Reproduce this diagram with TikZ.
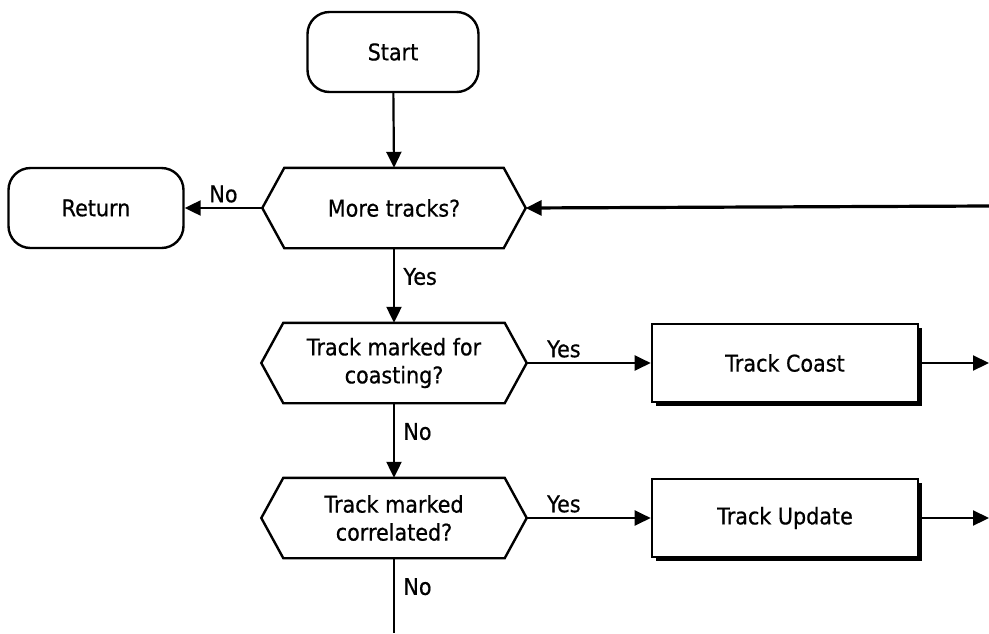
\documentclass[tikz,border=0pt]{standalone}
\usepackage{fontspec}
\setmainfont[FakeStretch=0.9,FakeBold=0.6]{DejaVu Sans}
\usetikzlibrary{arrows.meta,shadows}
\newcommand\hexpath[1]{\draw[hexline] (#1.west) -- ([xshift=22pt]#1.north west) -- ([xshift=-22pt]#1.north east) -- (#1.east) -- ([xshift=-22pt]#1.south east) -- ([xshift=22pt]#1.south west) -- cycle;}
\begin{document}
\begin{tikzpicture}[x=1pt,y=-1pt,
  txt/.style={font=\fontsize{23}{28}\selectfont},
  term/.style={txt, draw, line width=2.4pt, rounded corners=22pt, minimum height=80pt, inner sep=0pt},
  dec/.style={txt, minimum height=80pt, align=center, inner sep=0pt},
  hexline/.style={line width=2.4pt, line join=miter},
  procbox/.style={txt, draw, line width=2.6pt, fill=white, minimum width=266pt, minimum height=78pt, inner sep=0pt,
    drop shadow={shadow xshift=3.5pt, shadow yshift=-3.5pt, opacity=1, fill=black}},
  conn/.style={line width=2.2pt, -{Triangle[length=16pt,width=15pt]}},
  lbl/.style={txt}
]
\useasboundingbox (0,0) rectangle (989,633);

\node[term, minimum width=171pt] (start) at (393,52) {Start};
\node[term, minimum width=175pt] (ret) at (96,208) {Return};
\node[dec, minimum width=263pt] (d1) at (394,208) {More tracks?};
\hexpath{d1}
\node[dec, minimum width=265pt] (d2) at (394,363) {Track marked for\\coasting?};
\hexpath{d2}
\node[dec, minimum width=265pt] (d3) at (394,518) {Track marked\\correlated?};
\hexpath{d3}
\node[procbox] (coast) at (785,363) {Track Coast};
\node[procbox] (upd) at (785,518) {Track Update};

\coordinate (loopin) at (989,206);
\coordinate (coastout) at (989,363);
\coordinate (updout) at (989,518);
\coordinate (bottom) at (394,633);

\draw[conn] (start) -- (d1.north);
\draw[conn] (d1.west) -- (ret.east) node[lbl, midway, above=1pt] {No};
\draw[conn, line width=3.2pt] (loopin) -- (d1.east);
\draw[conn] (d1.south) -- (d2.north) node[lbl, pos=0.38, right=5pt] {Yes};
\draw[conn] (d2.east) -- (coast.west) node[lbl, pos=0.3, above=1pt] {Yes};
\draw[conn] (coast.east) -- (coastout);
\draw[conn] (d2.south) -- (d3.north) node[lbl, pos=0.38, right=5pt] {No};
\draw[conn] (d3.east) -- (upd.west) node[lbl, pos=0.3, above=1pt] {Yes};
\draw[conn] (upd.east) -- (updout);
\draw[line width=2.2pt] (d3.south) -- (bottom) node[lbl, pos=0.38, right=5pt] {No};
\end{tikzpicture}
\end{document}
